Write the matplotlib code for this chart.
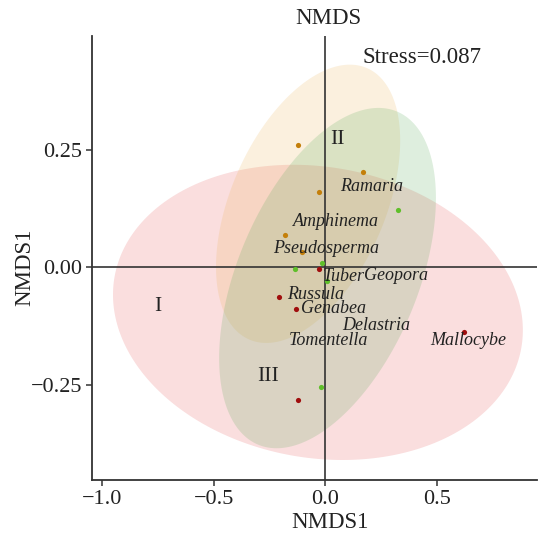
#NMDS ordination plot

import numpy as np
import matplotlib.pyplot as plt

plt.rcParams['font.family'] = ['Liberation Serif', 'DejaVu Serif']

#Puntos por grupo (I rojo, II naranja, III verde)
x_I = [-0.030, -0.207, -0.132, 0.622, -0.121]
y_I = [-0.004, -0.0625, -0.089, -0.137, -0.283]
x_II = [-0.121, 0.170, -0.030, -0.179, -0.106]
y_II = [0.260, 0.202, 0.160, 0.068, 0.033]
x_III = [0.327, -0.016, -0.134, 0.009, -0.021]
y_III = [0.121, 0.0085, -0.004, -0.030, -0.255]

#Generos
genera = ['Ramaria', 'Amphinema', 'Pseudosperma', 'Tuber', 'Geopora',
          'Russula', 'Genabea', 'Delastria', 'Tomentella', 'Mallocybe']
gen_x = [0.066, -0.143, -0.233, -0.012, 0.173, -0.170, -0.110, 0.076, -0.162, 0.468]
gen_y = [0.172, 0.097, 0.040, -0.020, -0.0185, -0.057, -0.087, -0.123, -0.156, -0.156]

#Elipses: centro, semiancho, semialto, correlacion
groups = ['I', 'II', 'III']
ell_cx = [-0.033, -0.077, 0.010]
ell_cy = [-0.096, 0.135, -0.023]
ell_xh = [0.917, 0.412, 0.485]
ell_yh = [0.314, 0.296, 0.362]
ell_r = [-0.12, 0.454, 0.47]
group_lx = [-0.75, 0.054, -0.258]
group_ly = [-0.084, 0.271, -0.233]

stress = 0.087

fill_cols = ['#e65a5a', '#ebb45a', '#5aaa5a']
pt_cols = ['#a00d0d', '#c47f0a', '#5fbf2a']


def ellipse_xy(cx, cy, xh, yh, r, n=300):
    t = np.linspace(0, 2 * np.pi, n)
    ex = cx + xh * np.cos(t)
    ey = cy + yh * (r * np.cos(t) + np.sqrt(1 - r ** 2) * np.sin(t))
    return ex, ey


fig = plt.figure(figsize=(5.38, 5.34), dpi=100)
ax = fig.add_axes([0.171, 0.1011, 0.827, 0.8315])

for i in range(3):
    ex, ey = ellipse_xy(ell_cx[i], ell_cy[i], ell_xh[i], ell_yh[i], ell_r[i])
    ax.fill(ex, ey, color=fill_cols[i], alpha=0.2, lw=0, zorder=1)

ax.axhline(0, color='#333333', lw=1.2, zorder=2)
ax.axvline(0, color='#333333', lw=1.2, zorder=2)

ax.scatter(x_I, y_I, s=14, color=pt_cols[0], zorder=3, lw=0)
ax.scatter(x_II, y_II, s=14, color=pt_cols[1], zorder=3, lw=0)
ax.scatter(x_III, y_III, s=14, color=pt_cols[2], zorder=3, lw=0)

for g, gx, gy in zip(genera, gen_x, gen_y):
    ax.text(gx, gy, g, fontsize=13, style='italic', ha='left', va='center',
            color='#222222', zorder=4)

for g, gx, gy in zip(groups, group_lx, group_ly):
    ax.text(gx, gy, g, fontsize=15.5, ha='center', va='center', color='#222222', zorder=4)

ax.text(0.168, 0.446, 'Stress=' + str(stress), fontsize=16.5, ha='left', va='center',
        color='#222222')

ax.set_xlim(-1.044, 0.947)
ax.set_ylim(-0.4526, 0.492)
ax.set_xticks([-1.0, -0.5, 0.0, 0.5])
ax.set_xticklabels(['\u22121.0', '\u22120.5', '0.0', '0.5'])
ax.set_yticks([-0.25, 0.0, 0.25])
ax.set_yticklabels(['\u22120.25', '0.00', '0.25'])
ax.tick_params(direction='out', length=4, width=1.1, colors='#333333',
               labelsize=16, labelcolor='#222222', pad=3)
for s in ['top', 'right']:
    ax.spines[s].set_visible(False)
for s in ['left', 'bottom']:
    ax.spines[s].set_color('#333333')
    ax.spines[s].set_linewidth(1.3)

fig.text(328 / 538, 1 - 18 / 534, 'NMDS', fontsize=16.5, ha='center', va='center',
         color='#222222')
fig.text(330 / 538, 1 - 522 / 534, 'NMDS1', fontsize=16.5, ha='center', va='center',
         color='#222222')
fig.text(25 / 538, 1 - 267 / 534, 'NMDS1', fontsize=16.5, ha='center', va='center',
         rotation=90, color='#222222')

fig.savefig('out.png', dpi=100, facecolor='white')
